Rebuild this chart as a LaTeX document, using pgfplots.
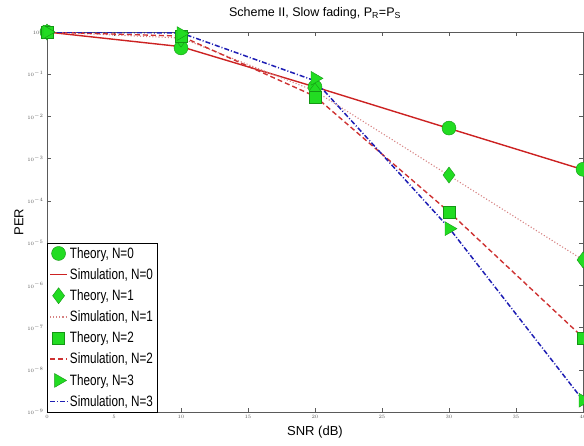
\documentclass[border=0pt]{standalone}
\usepackage{pgfplots}
\pgfplotsset{compat=1.18}
\usepackage{fontspec}
\setmainfont{Liberation Sans}
\newfontfamily\legfont[FakeStretch=0.78]{Liberation Sans}

\definecolor{mkgreen}{RGB}{34,220,34}
\definecolor{mkedge}{RGB}{20,150,20}
\definecolor{simred}{RGB}{204,34,34}
\definecolor{simpink}{RGB}{214,130,130}
\definecolor{simdash}{RGB}{206,50,50}
\definecolor{simblue}{RGB}{30,30,180}
\definecolor{axgray}{RGB}{90,90,90}

\begin{document}
\begin{tikzpicture}
\begin{axis}[
  scale only axis,
  width=536pt, height=380pt,
  ymode=log,
  xmin=0, xmax=40,
  ymin=1e-9, ymax=1,
  xtick={0,5,...,40},
  ytick={1,1e-1,1e-2,1e-3,1e-4,1e-5,1e-6,1e-7,1e-8,1e-9},
  tick label style={font=\fontsize{5}{6}\selectfont, text=axgray},
  axis line style={axgray},
  every tick/.style={axgray},
  major tick length=4pt,
  minor tick length=2pt,
  tick align=inside,
  title={Scheme II, Slow fading, P\textsubscript{R}=P\textsubscript{S}},
  title style={font=\fontsize{12.5}{14}\selectfont, yshift=3pt},
  xlabel={SNR (dB)},
  ylabel={PER},
  xlabel style={font=\fontsize{13}{15}\selectfont, yshift=0pt},
  ylabel style={font=\fontsize{13}{15}\selectfont, yshift=-3pt},
  legend style={at={(0,0)}, anchor=south west, draw=black,
    font=\legfont\fontsize{15}{17}\selectfont,
    cells={anchor=west}, row sep=4.8pt, inner xsep=2pt, inner ysep=2pt},
  legend cell align=left,
  legend image post style={line width=1.7pt},
  theory/.style={only marks},
  simline/.style={no marks, line width=1.4pt},
]
% N = 0
\addplot[theory, mark=*, mark size=7pt,
  mark options={fill=mkgreen, draw=mkedge, line width=0.4pt}] coordinates {
  (0,1) (10,0.42) (20,0.05) (30,5.3e-3) (40,5.6e-4)};
\addlegendentry{Theory, N=0}
\addplot[simline, draw=simred] coordinates {
  (0,1) (10,0.45) (20,0.05) (30,5.2e-3) (40,5.5e-4)};
\addlegendentry{Simulation, N=0}
% N = 1
\addplot[theory, mark=diamond*, mark size=8pt,
  mark options={fill=mkgreen, draw=mkedge, line width=0.4pt}] coordinates {
  (0,1) (10,0.68) (20,0.04) (30,4.1e-4) (40,4e-6)};
\addlegendentry{Theory, N=1}
\addplot[simline, draw=simpink, line width=1.1pt, dotted] coordinates {
  (0,1) (10,0.72) (20,0.04) (30,4e-4) (40,4e-6)};
\addlegendentry{Simulation, N=1}
% N = 2
\addplot[theory, mark=square*, mark size=6pt,
  mark options={fill=mkgreen, draw=mkedge, line width=0.4pt}] coordinates {
  (0,1) (10,0.78) (20,0.028) (30,5.4e-5) (40,5.6e-8)};
\addlegendentry{Theory, N=2}
\addplot[simline, draw=simdash, dash pattern=on 5pt off 3pt] coordinates {
  (0,1) (10,0.8) (20,0.03) (30,5.5e-5) (40,5.8e-8)};
\addlegendentry{Simulation, N=2}
% N = 3
\addplot[theory, mark=triangle*, mark size=8pt,
  mark options={fill=mkgreen, draw=mkedge, line width=0.4pt, rotate=-90}] coordinates {
  (0,1) (10,0.92) (20,0.08) (30,2.2e-5) (40,1.9e-9)};
\addlegendentry{Theory, N=3}
\addplot[simline, draw=simblue, line width=1.5pt, dash pattern=on 5pt off 2pt on 1pt off 2pt] coordinates {
  (0,1) (10,0.95) (20,0.07) (30,2.3e-5) (40,1.9e-9)};
\addlegendentry{Simulation, N=3}

\coordinate (ll) at (rel axis cs:0,0);
\coordinate (ur) at (rel axis cs:1,1);
\end{axis}
\pgfresetboundingbox
\path[use as bounding box] ([shift={(-47pt,-33pt)}]ll) rectangle ([shift={(1pt,32pt)}]ur);
\end{tikzpicture}
\end{document}
